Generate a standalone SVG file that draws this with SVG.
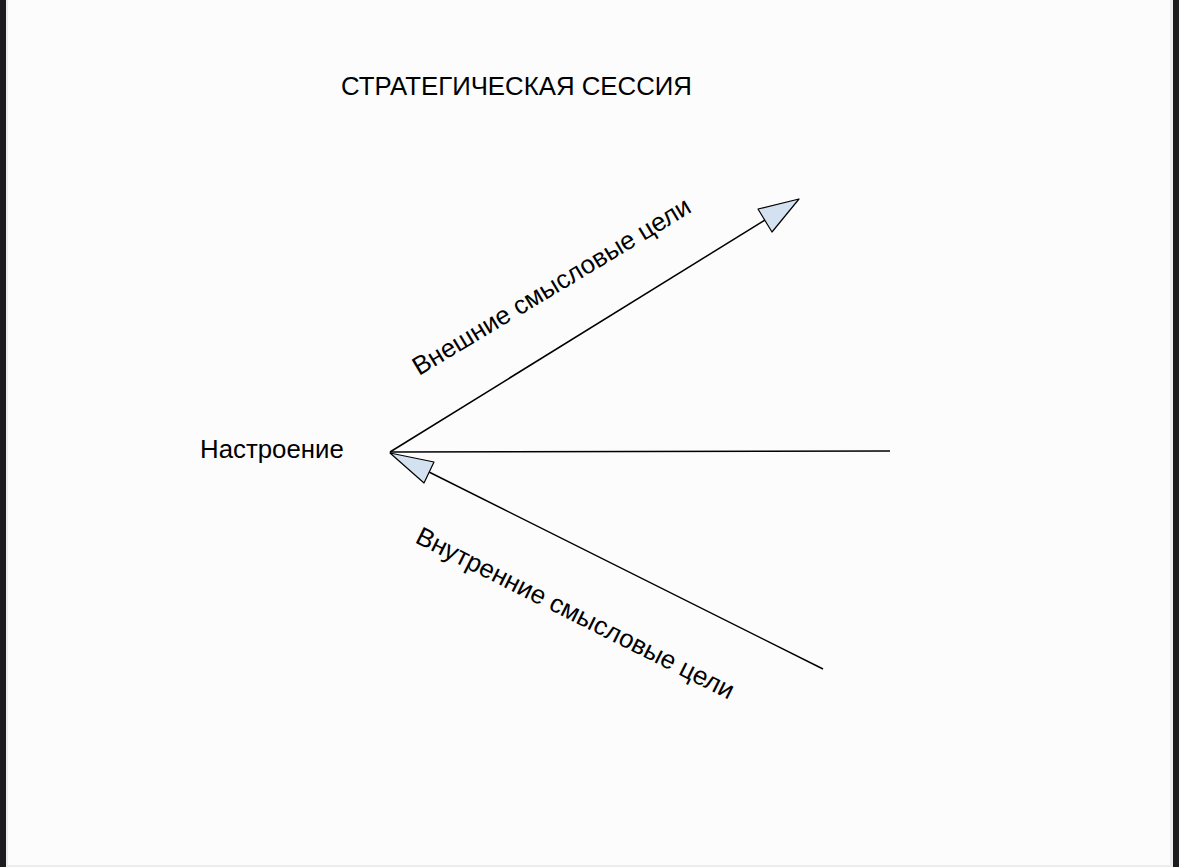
<svg xmlns="http://www.w3.org/2000/svg" width="1179" height="867" viewBox="0 0 1179 867">
<style>
.t{font-family:"Liberation Sans",Arial,sans-serif;fill:#000;font-size:25.8px}
.ln{stroke:#000;stroke-width:1.5;fill:none}
.ah{fill:#d4e1f0;stroke:#000;stroke-width:1.2;stroke-linejoin:round}
</style>
<rect x="0" y="0" width="1179" height="867" fill="#1c1c1e"/>
<rect x="6" y="0" width="1167" height="867" fill="#ececec"/>
<rect x="8" y="0" width="1162" height="865" fill="#fcfcfc"/>
<g id="title"><text class="t" x="341" y="95">СТРАТЕГИЧЕСКАЯ СЕССИЯ</text></g>
<g id="mood"><text class="t" x="200" y="458">Настроение</text></g>
<g id="outer-label"><text class="t" x="419" y="376" transform="rotate(-31 419 376)">Внешние смысловые цели</text></g>
<g id="inner-label"><text class="t" x="414" y="542" transform="rotate(26.6 414 542)">Внутренние смысловые цели</text></g>
<g id="connectors">
<line class="ln" x1="390" y1="452" x2="765" y2="220"/>
<polygon class="ah" points="799,199 758,209 772,232"/>
<line class="ln" x1="390" y1="452" x2="890" y2="451"/>
<line class="ln" x1="823" y1="669" x2="429" y2="472"/>
<polygon class="ah" points="390,453 434,462 424,483"/>
</g>
</svg>
